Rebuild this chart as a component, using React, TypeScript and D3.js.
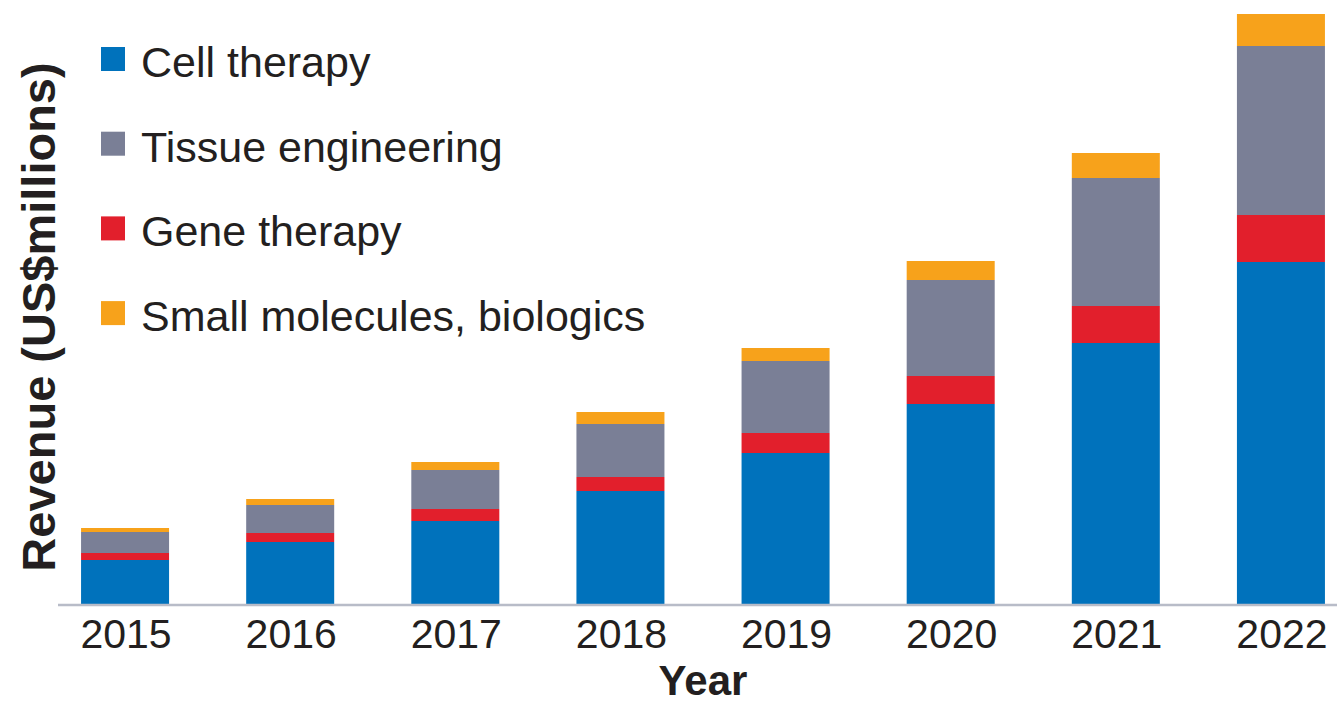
import React from "react";
import * as d3 from "d3";

const years = ["2015", "2016", "2017", "2018", "2019", "2020", "2021", "2022"];
const cellTherapy = [44, 62, 83, 113, 151, 200, 261, 342];
const geneTherapy = [7, 9, 12, 14, 20, 28, 37, 47];
const tissueEngineering = [21, 28, 39, 53, 72, 96, 128, 169];
const smallMolecules = [4, 6, 8, 12, 13, 19, 25, 32];

const stackKeys = ["cell", "gene", "tissue", "small"];
const legendKeys = ["cell", "tissue", "gene", "small"];
const labels: Record<string, string> = {
  cell: "Cell therapy",
  tissue: "Tissue engineering",
  gene: "Gene therapy",
  small: "Small molecules, biologics",
};
const colors: Record<string, string> = {
  cell: "#0072BC",
  tissue: "#7A7F96",
  gene: "#E21F2C",
  small: "#F7A21B",
};

const W = 1337;
const H = 703;
const FONT = "'Liberation Sans', Arial, sans-serif";
const TEXT = "#231F20";

export default function App() {
  const rows = years.map((y, i) => ({
    year: y,
    cell: cellTherapy[i],
    gene: geneTherapy[i],
    tissue: tissueEngineering[i],
    small: smallMolecules[i],
  }));
  const series = d3.stack<any>().keys(stackKeys)(rows);
  const maxTotal = d3.max(rows, (r) => r.cell + r.gene + r.tissue + r.small) as number;

  const x = d3
    .scaleBand<string>()
    .domain(years)
    .range([42.5, 1363.5])
    .paddingInner(0.467)
    .paddingOuter(0.2335);
  const y = d3.scaleLinear().domain([0, maxTotal + 1]).range([604, 13]);

  return (
    <svg
      width={W}
      height={H}
      style={{ position: "absolute", left: 0, top: 0, display: "block", background: "#fff" }}
    >
      {series.map((s) => (
        <g key={s.key} fill={colors[s.key]}>
          {s.map((d: any, i: number) => (
            <rect
              key={i}
              x={x(d.data.year)}
              width={x.bandwidth()}
              y={y(d[1])}
              height={y(d[0]) - y(d[1])}
            />
          ))}
        </g>
      ))}
      <line x1={58} x2={W} y1={605} y2={605} stroke="#B8BCC8" strokeWidth={2.5} />
      {years.map((yr) => (
        <text
          key={yr}
          x={(x(yr) as number) + x.bandwidth() / 2 + 1}
          y={648}
          textAnchor="middle"
          fontFamily={FONT}
          fontSize={41}
          fill={TEXT}
        >
          {yr}
        </text>
      ))}
      <text
        x={703}
        y={695}
        textAnchor="middle"
        fontFamily={FONT}
        fontWeight="bold"
        fontSize={42}
        fill={TEXT}
      >
        Year
      </text>
      <text
        transform="translate(55,317) rotate(-90)"
        textAnchor="middle"
        fontFamily={FONT}
        fontWeight="bold"
        fontSize={47}
        fill={TEXT}
      >
        Revenue (US$millions)
      </text>
      {legendKeys.map((k, i) => {
        const base = 77 + i * 84.7;
        return (
          <g key={k}>
            <rect x={101} y={base - 30} width={24} height={24} fill={colors[k]} />
            <text x={141} y={base} fontFamily={FONT} fontSize={43} fill={TEXT}>
              {labels[k]}
            </text>
          </g>
        );
      })}
    </svg>
  );
}
